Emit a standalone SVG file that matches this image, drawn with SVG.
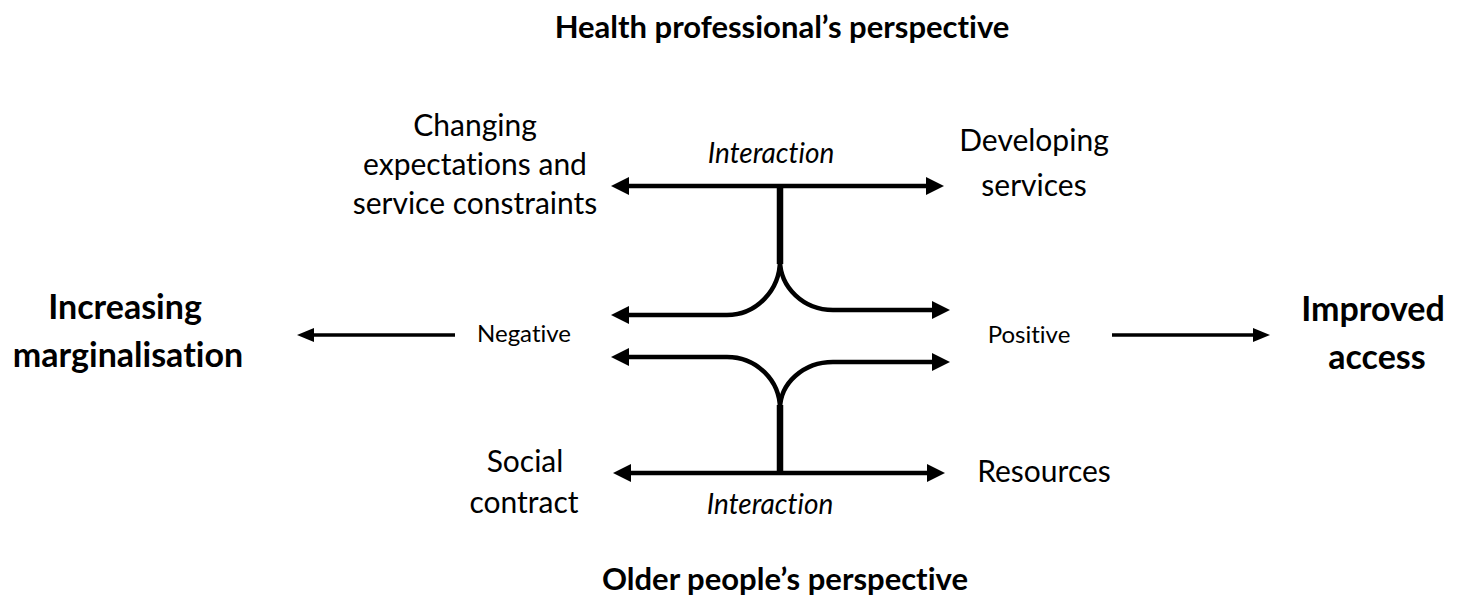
<svg xmlns="http://www.w3.org/2000/svg" width="1466" height="610" viewBox="0 0 1466 610">
<style>
text{font-family:Lato,"Open Sans","Liberation Sans",sans-serif;fill:#000;text-anchor:middle;font-variant-ligatures:none}
.title{font-weight:bold;font-size:31px}
.big{font-weight:bold;font-size:34px}
.lbl{font-size:30px}
.it{font-size:28px;font-style:italic}
.sm{font-size:24px}
.ln{fill:none;stroke:#000;stroke-width:4.5}
.stem{fill:none;stroke:#000;stroke-width:6.5}
.thin{fill:none;stroke:#000;stroke-width:3.5}
</style>
<defs>
<marker id="ah" viewBox="0 0 18 18" markerWidth="18" markerHeight="18" refX="4" refY="9" orient="auto-start-reverse" markerUnits="userSpaceOnUse">
<path d="M0,0 L18,9 L0,18 z" fill="#000"/>
</marker>
<marker id="ahs" viewBox="0 0 17 14" markerWidth="17" markerHeight="14" refX="3" refY="7" orient="auto-start-reverse" markerUnits="userSpaceOnUse">
<path d="M0,0 L17,7 L0,14 z" fill="#000"/>
</marker>
</defs>
<g id="connectors">
<line class="ln" x1="625" y1="186" x2="930" y2="186" marker-start="url(#ah)" marker-end="url(#ah)"/>
<line class="stem" x1="780" y1="186" x2="780" y2="264"/>
<path class="ln" d="M780,260 A53,55 0 0 1 727,315 L625,315" marker-end="url(#ah)"/>
<path class="ln" d="M780,260 A53,50 0 0 0 833,310 L936,310" marker-end="url(#ah)"/>
<path class="ln" d="M625,357 L727,357 A53,52 0 0 1 780,409" marker-start="url(#ah)"/>
<path class="ln" d="M936,362 L833,362 A53,47 0 0 0 780,409" marker-start="url(#ah)"/>
<line class="stem" x1="780" y1="405" x2="780" y2="475"/>
<line class="ln" x1="627" y1="473" x2="931" y2="473" marker-start="url(#ah)" marker-end="url(#ah)"/>
<line class="thin" x1="455" y1="335" x2="311" y2="335" marker-end="url(#ahs)"/>
<line class="thin" x1="1112" y1="335" x2="1256" y2="335" marker-end="url(#ahs)"/>
</g>
<g id="title-top"><text class="title" x="782" y="38">Health professional’s perspective</text></g>
<g id="title-bottom"><text class="title" x="785" y="590">Older people’s perspective</text></g>
<g id="node-changing">
<text class="lbl" x="475" y="136">Changing</text>
<text class="lbl" x="475" y="175">expectations and</text>
<text class="lbl" x="475" y="214">service constraints</text>
</g>
<g id="node-interaction-top"><text class="it" x="771" y="163">Interaction</text></g>
<g id="node-developing">
<text class="lbl" x="1034" y="151">Developing</text>
<text class="lbl" x="1034" y="196">services</text>
</g>
<g id="node-marginalisation">
<text class="big" x="125" y="319">Increasing</text>
<text class="big" x="128" y="367">marginalisation</text>
</g>
<g id="node-improved">
<text class="big" x="1373" y="321">Improved</text>
<text class="big" x="1377" y="369">access</text>
</g>
<g id="node-negative"><text class="sm" x="524" y="342">Negative</text></g>
<g id="node-positive"><text class="sm" x="1029" y="343">Positive</text></g>
<g id="node-social">
<text class="lbl" x="525" y="472">Social</text>
<text class="lbl" x="524" y="513">contract</text>
</g>
<g id="node-resources"><text class="lbl" x="1044" y="482">Resources</text></g>
<g id="node-interaction-bottom"><text class="it" x="770" y="514">Interaction</text></g>
</svg>
